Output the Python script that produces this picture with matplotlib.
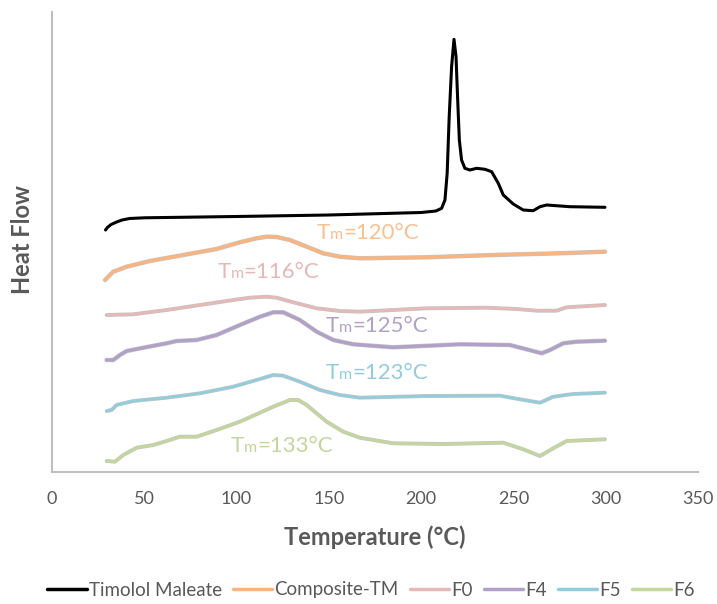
import matplotlib
matplotlib.use("Agg")
import matplotlib.pyplot as plt
import matplotlib.patheffects as pe
from matplotlib.offsetbox import TextArea, HPacker, AnnotationBbox

plt.rcParams['font.family'] = ['Lato', 'DejaVu Sans']

# ---- data (temperature °C, heat flow arbitrary, curves stacked) ----
tm_x = [29, 30, 32, 35, 38, 42, 50, 100, 150, 200, 208, 211.1, 212.9, 214.1, 215.2, 216.5, 217.8,
        218.9, 219.8, 220.7, 221.9, 223.7, 226.4, 230, 234.6, 238.2, 241.8, 244.5, 249.9,
        255.3, 260.7, 264.4, 268, 280.6, 290, 299.6]
tm_y = [242, 244.5, 247.5, 250, 252, 253.5, 254.2, 255.5, 257, 259.5, 261, 263.7, 272, 298.7, 355.3, 405.3, 432.7,
        415.3, 372, 332, 312, 303.7, 302, 303.7, 302.7, 300.3, 288.7, 277, 268,
        262, 261.3, 265.3, 267, 265.3, 265, 264.7]

comp_x = [28.7, 33.2, 40.5, 53.1, 71.1, 89.2, 101.8, 110.9, 116.3, 121.7, 128.9, 138, 147,
          156, 166.8, 203, 239, 275, 299.6]
comp_y = [192, 200.3, 205.3, 211, 217, 223, 229.7, 233.7, 235.3, 235, 232, 225.3, 218.7,
          215.3, 213.7, 214.7, 217, 218.7, 220.3]

f0_x = [29.6, 44, 62.1, 80.2, 98.2, 107.3, 116.3, 121.7, 130.7, 143.4, 156, 166.8, 203,
        235.5, 251.7, 262.6, 273.4, 278.8, 299.6]
f0_y = [157, 157.7, 162, 167, 172, 174.3, 175.3, 174.3, 169.7, 163.7, 161, 160.3, 163.7,
        164.3, 163, 161.3, 161.3, 164.7, 167]

f4_x = [29.6, 33.2, 36.8, 40.5, 49.5, 62.1, 67.5, 78.4, 89.2, 101.8, 112.7, 119.9, 125.3,
        134.3, 143.4, 152.4, 163.2, 184.9, 221, 248.1, 257.1, 265.3, 269.8, 277, 284.2, 299.6]
f4_y = [112, 112, 117, 121, 124.3, 128.7, 131, 132, 137, 147, 155.3, 159.7, 159.7,
        152, 140.3, 132, 127.7, 124.7, 127.7, 127, 122.7, 118.7, 122, 128.7, 130.3, 131.3]

f5_x = [29.6, 32.3, 35, 44, 62.1, 80.2, 98.2, 112.7, 119.9, 125.3, 134.3, 145.2, 156, 166.8,
        203, 242.7, 253.5, 264.4, 271.6, 282.4, 299.6]
f5_y = [61, 62, 67, 71, 74.3, 78.7, 85.3, 93, 97, 96.3, 90.3, 82, 77, 74.3,
        76, 76.3, 72.7, 69.3, 75.3, 78, 79.3]

f6_x = [29.6, 34.1, 38.6, 45.9, 54.9, 62.1, 69.3, 78.4, 89.2, 101.8, 112.7, 119.9, 128.9,
        133.4, 138, 148.8, 157.8, 166.8, 184.9, 212, 244.5, 255.3, 264.4, 271.6, 278.8, 299.6]
f6_y = [11, 10.3, 17, 24.3, 27, 31, 35.3, 35.3, 42, 50.3, 59.3, 65.3, 72,
        72, 67, 50.3, 40.3, 34.3, 28.7, 28, 29.3, 22.7, 16, 23.7, 31, 32.7]

series_names = ["Timolol Maleate", "Composite-TM", "F0", "F4", "F5", "F6"]
series_colors = ["#000000", "#FAB47F", "#E6B8B7", "#B1A0C7", "#92CDDC", "#C4D79B"]

tm_labels = ["120", "116", "125", "123", "133"]
tm_label_colors = ["#FAC090", "#E6B8B7", "#B3A2C7", "#93CDDD", "#C3D69B"]
tm_label_pos = [(143.5, 239), (89.5, 200), (148.5, 146), (148.5, 99), (97, 26)]

x_ticks = [0, 50, 100, 150, 200, 250, 300, 350]

# ---- figure ----
fig = plt.figure(figsize=(7.17, 6.04), dpi=100)
ax = fig.add_axes([52/717, 1 - 472/604, 646/717, 460/604])

xs = [tm_x, comp_x, f0_x, f4_x, f5_x, f6_x]
ys = [tm_y, comp_y, f0_y, f4_y, f5_y, f6_y]
for i, (x, y) in enumerate(zip(xs, ys)):
    if i == 0:
        ax.plot(x, y, color=series_colors[i], lw=2.2, label=series_names[i],
                solid_capstyle='round', solid_joinstyle='round')
    else:
        lw = 2.3 if i in (1, 3) else 1.9
        ax.plot(x, y, color=series_colors[i], lw=lw, label=series_names[i],
                solid_capstyle='round', solid_joinstyle='round',
                path_effects=[pe.Stroke(linewidth=lw + 0.9, foreground='#c4c4c4'), pe.Normal()])

# Tm annotations
for lab, col, (px, py) in zip(tm_labels, tm_label_colors, tm_label_pos):
    big = dict(color=col, fontsize=16, fontfamily=['Lato', 'DejaVu Sans'])
    small = dict(color=col, fontsize=11.5, fontfamily=['Lato', 'DejaVu Sans'])
    box = HPacker(children=[TextArea("T", textprops=big),
                            TextArea("m", textprops=small),
                            TextArea("=" + lab + "°C", textprops=big)],
                  align="baseline", pad=0, sep=0)
    ab = AnnotationBbox(box, (px, py), xycoords='data', frameon=False,
                        box_alignment=(0, 0.5), pad=0)
    ax.add_artist(ab)

ax.set_xlim(0, 350)
ax.set_ylim(0, 460)
ax.set_xticks(x_ticks)
ax.set_yticks([])
ax.tick_params(axis='x', length=0, pad=14, labelsize=13, labelcolor='#595959')
for s in ['top', 'right']:
    ax.spines[s].set_visible(False)
for s in ['left', 'bottom']:
    ax.spines[s].set_color('#BFBFBF')
    ax.spines[s].set_linewidth(1.5)

fig.text(375/717, 1 - 537/604, "Temperature (°C)", ha='center', va='center',
         fontsize=17, fontweight='bold', color='#595959')
fig.text(23/717, 1 - 240/604, "Heat Flow", ha='center', va='center', rotation=90,
         fontsize=17, fontweight='bold', color='#595959')

leg = fig.legend(loc='center', bbox_to_anchor=(371/717, 1 - 590/604), ncol=6,
                 frameon=False, fontsize=13.5, handlelength=2.1, handletextpad=0.1,
                 columnspacing=0.6, labelcolor='#595959')
for h in leg.get_lines():
    h.set_linewidth(2.5)
    h.set_path_effects([])

fig.savefig("out.png", dpi=100)
